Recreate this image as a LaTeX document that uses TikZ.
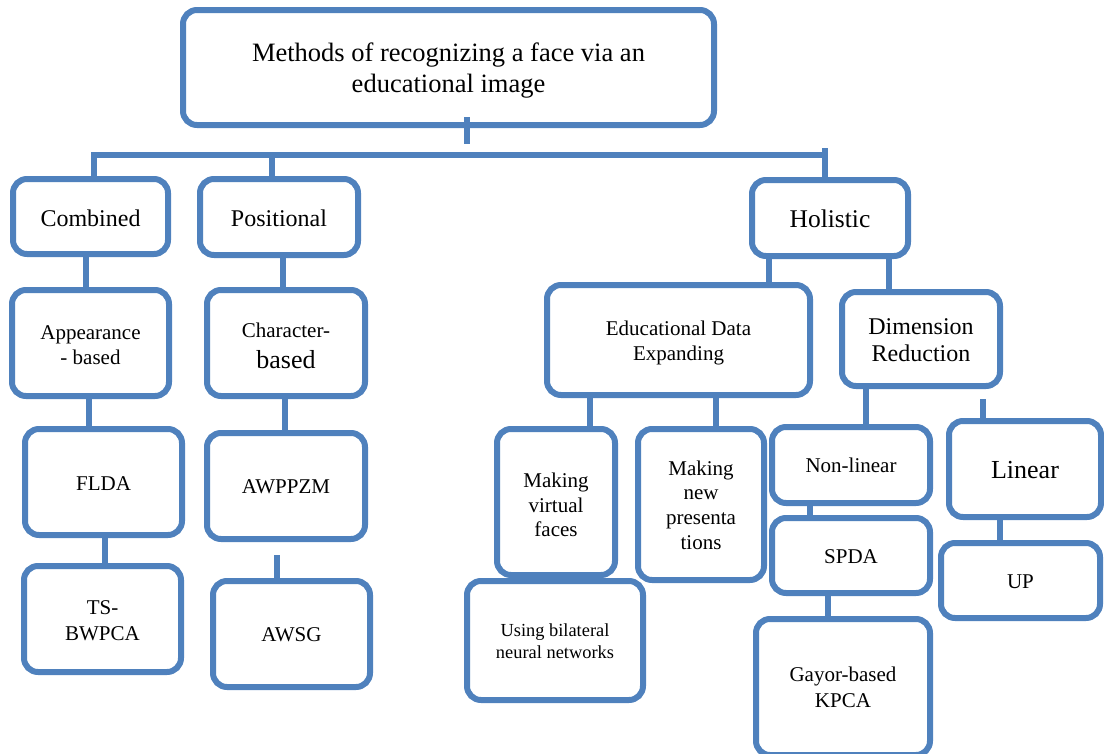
\documentclass[tikz,border=0pt]{standalone}
\usepackage{fontspec}
\setmainfont{Liberation Serif}
\definecolor{boxblue}{HTML}{4F81BD}
\newdimen\btoff
% #1 = offset of first baseline below the box centre (pt), #2 = lines
\newcommand{\boxtext}[2]{\btoff=#1pt\relax
  \ifdim\btoff>0pt
    \raisebox{0pt}[2\btoff][0pt]{\begin{tabular}[t]{@{}c@{}}#2\end{tabular}}%
  \else
    \raisebox{0pt}[0pt][-2\btoff]{\begin{tabular}[t]{@{}c@{}}#2\end{tabular}}%
  \fi}
\tikzset{
  box/.style={draw=boxblue, line width=6pt, rounded corners=14pt, fill=white,
    inner sep=0pt, font=\fontsize{21}{25}\selectfont},
  conn/.style={draw=boxblue, line width=6pt}
}
\begin{document}
\begin{tikzpicture}[x=1pt,y=-1pt]
\useasboundingbox (0,0) rectangle (1104,753);
\clip (0,0) rectangle (1104,753);
% top level
\node[box, minimum width=531pt, minimum height=115pt, font=\fontsize{26.5}{30.6}\selectfont] (title) at (448.5,67.5) {\boxtext{-5.8}{Methods of recognizing a face via an\\educational image}};
\node[box, minimum width=155pt, minimum height=75pt, font=\fontsize{24}{28}\selectfont] (comb) at (90.5,216.5) {\boxtext{10}{Combined}};
\node[box, minimum width=158pt, minimum height=76pt, font=\fontsize{24}{28}\selectfont] (pos) at (279,217) {\boxtext{9.7}{Positional}};
\node[box, minimum width=156pt, minimum height=76pt, font=\fontsize{25.5}{30}\selectfont] (hol) at (830,218) {\boxtext{9.3}{Holistic}};
% left branches
\node[box, minimum width=157pt, minimum height=106pt, font=\fontsize{21}{24.7}\selectfont] (app) at (90.5,343) {\boxtext{-3.7}{Appearance\\- based}};
\node[box, minimum width=158pt, minimum height=106pt] (char) at (286,343) {\boxtext{-5.7}{Character-\\[5.7pt]{\fontsize{26}{30}\selectfont based}}};
\node[box, minimum width=157pt, minimum height=106pt] (flda) at (103.5,482) {\boxtext{8}{FLDA}};
\node[box, minimum width=158pt, minimum height=106pt] (awp) at (286,486) {\boxtext{7.3}{AWPPZM}};
\node[box, minimum width=157pt, minimum height=106pt] (tsbw) at (102.5,619) {\boxtext{-5}{TS-\\[1pt]BWPCA}};
\node[box, minimum width=157pt, minimum height=106pt] (awsg) at (291.5,634) {\boxtext{7.7}{AWSG}};
% holistic branches
\node[box, minimum width=263pt, minimum height=110pt] (ede) at (678.5,340) {\boxtext{-5}{Educational Data\\Expanding}};
\node[box, minimum width=158pt, minimum height=94pt, font=\fontsize{24}{27.4}\selectfont] (dr) at (921,339) {\boxtext{-4.7}{Dimension\\Reduction}};
\node[box, minimum width=118pt, minimum height=146pt, font=\fontsize{21}{24.7}\selectfont] (mvf) at (556,502) {\boxtext{-14.7}{Making\\virtual\\faces}};
\node[box, minimum width=126pt, minimum height=151pt, font=\fontsize{21}{24.8}\selectfont] (mnp) at (701,504.5) {\boxtext{-29.5}{Making\\new\\presenta\\tions}};
\node[box, minimum width=176pt, minimum height=119pt, font=\fontsize{18.4}{21.7}\selectfont] (using) at (555,640.5) {\boxtext{-3.8}{Using bilateral\\neural networks}};
\node[box, minimum width=158pt, minimum height=76pt] (nonlin) at (851,465) {\boxtext{7.7}{Non-linear}};
\node[box, minimum width=158pt, minimum height=75pt] (spda) at (851,555.5) {\boxtext{7.8}{SPDA}};
\node[box, minimum width=174pt, minimum height=136pt, font=\fontsize{21}{25.6}\selectfont] (gayor) at (843,687) {\boxtext{-5.3}{Gayor-based\\KPCA}};
\node[box, minimum width=152pt, minimum height=96pt, font=\fontsize{26}{30}\selectfont] (lin) at (1025,469) {\boxtext{9.8}{Linear}};
\node[box, minimum width=159pt, minimum height=75pt] (up) at (1020.5,580.5) {\boxtext{7.8}{UP}};
% top connectors
\coordinate (tstub) at (467,144);
\coordinate (barL) at (94,154.5);
\coordinate (barP) at (271.5,154.5);
\coordinate (barR) at (825,154.5);
\draw[conn] ([yshift=11pt]title.south -| tstub) -- (tstub);
\draw[conn] ([xshift=-3pt]barL) -- ([xshift=3pt]barR);
\draw[conn] (barL) -- (barL |- comb.north);
\draw[conn] (barP) -- (barP |- pos.north);
\draw[conn] ([yshift=6.5pt]barR) -- (barR |- hol.north);
% left branches
\draw[conn] (comb.south -| 86,0) -- (app.north -| 86,0);
\draw[conn] (pos.south -| 283,0) -- (char.north -| 283,0);
\draw[conn] (app.south -| 89,0) -- (flda.north -| 89,0);
\draw[conn] (char.south -| 285,0) -- (awp.north -| 285,0);
\draw[conn] (flda.south -| 105,0) -- (tsbw.north -| 105,0);
\draw[conn] ([yshift=-13pt]awp.south -| 277,0) -- (awsg.north -| 277,0);
% holistic branches
\draw[conn] (hol.south -| 769,0) -- (ede.north -| 769,0);
\draw[conn] (hol.south -| 889,0) -- (dr.north -| 889,0);
\draw[conn] (ede.south -| 590,0) -- (mvf.north -| 590,0);
\draw[conn] (ede.south -| 716,0) -- (mnp.north -| 716,0);
\draw[conn] (dr.south -| 866,0) -- (nonlin.north -| 866,0);
\draw[conn] ([yshift=-10pt]dr.south -| 983,0) -- (lin.north -| 983,0);
\draw[conn] (nonlin.south -| 810,0) -- (spda.north -| 810,0);
\draw[conn] (spda.south -| 828,0) -- ([yshift=-4pt]gayor.north -| 828,0);
\draw[conn] (lin.south -| 1000,0) -- (up.north -| 1000,0);
\end{tikzpicture}
\end{document}
